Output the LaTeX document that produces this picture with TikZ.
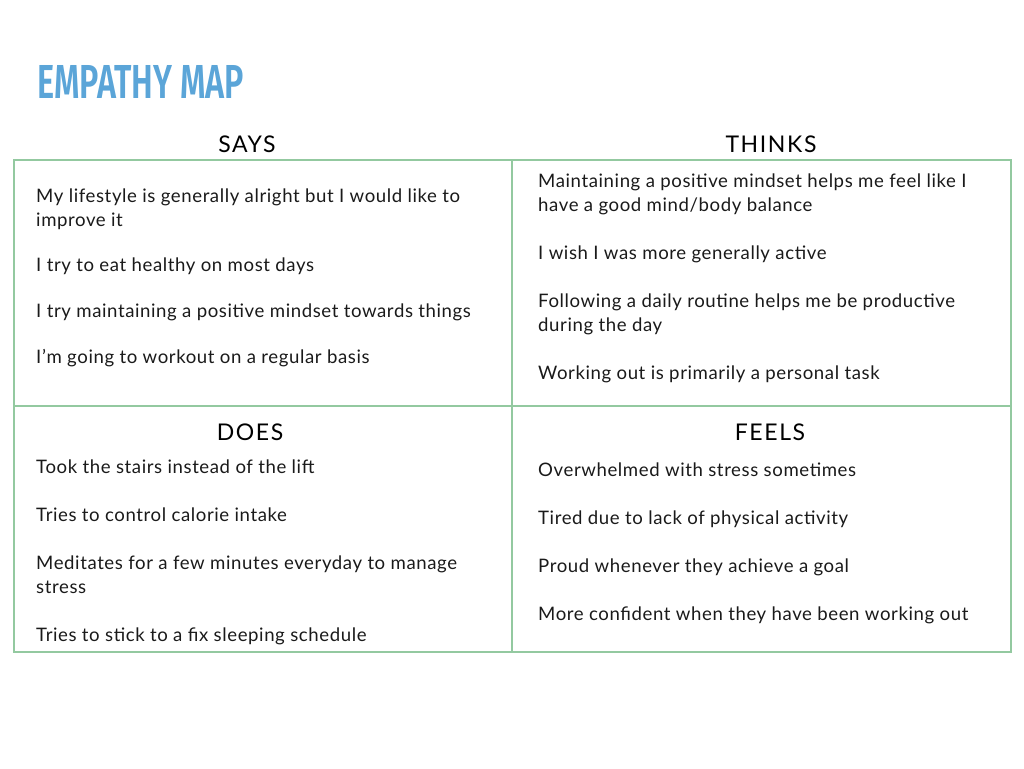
\documentclass[tikz,border=0pt]{standalone}
\usepackage{fontspec}
\setmainfont{Lato}[LetterSpace=3.2]
\newfontfamily\titlefont{Fira Sans SemiBold}
\definecolor{titleblue}{HTML}{5BA5D8}
\definecolor{gridgreen}{HTML}{93C9A0}
\definecolor{inktext}{HTML}{1A1A1A}
\begin{document}
\begin{tikzpicture}[x=1pt,y=-1pt,
  quadhead/.style={anchor=base, font=\fontsize{23}{26}\selectfont\addfontfeature{LetterSpace=7}, text=black, inner sep=0pt},
  item/.style={anchor=base west, align=left, font=\fontsize{18.6}{24}\selectfont, text=inktext, inner sep=0pt},
  gridline/.style={draw=gridgreen, line width=1.3pt}]
\useasboundingbox (0,0) rectangle (1024,768);
% title
\node[anchor=north west, inner sep=0pt, text=titleblue] (title) at (37,65)
  {\resizebox{207pt}{33pt}{\titlefont EMPATHY MAP}};
% grid
\coordinate (tl) at (14,160);
\coordinate (br) at (1011,652);
\draw[gridline] (tl) rectangle (br);
\coordinate (mt) at (512,160);
\coordinate (mb) at (512,652);
\coordinate (ml) at (14,406);
\coordinate (mr) at (1011,406);
\draw[gridline] (mt) -- (mb);
\draw[gridline] (ml) -- (mr);
% headings
\node[quadhead] (says) at (247,152) {SAYS};
\node[quadhead] (thinks) at (771,152) {THINKS};
\node[quadhead] (does) at (250,440) {DOES};
\node[quadhead] (feels) at (770,440) {FEELS};
% says (two-line items are anchored on their last line)
\node[item] (s1) at (36,226) {My lifestyle is generally alright but I would like to\\improve it};
\node[item] (s2) at (36,271) {I try to eat healthy on most days};
\node[item] (s3) at (36,317) {I try maintaining a positive mindset towards things};
\node[item] (s4) at (36,363) {I’m going to workout on a regular basis};
% thinks
\node[item] (t1) at (538,211) {Maintaining a positive mindset helps me feel like I\\have a good mind/body balance};
\node[item] (t2) at (538,259) {I wish I was more generally active};
\node[item] (t3) at (538,331) {Following a daily routine helps me be productive\\during the day};
\node[item] (t4) at (538,379) {Working out is primarily a personal task};
% does
\node[item] (d1) at (36,473) {Took the stairs instead of the lift};
\node[item] (d2) at (36,521) {Tries to control calorie intake};
\node[item] (d3) at (36,593) {Meditates for a few minutes everyday to manage\\stress};
\node[item] (d4) at (36,641) {Tries to stick to a fix sleeping schedule};
% feels
\node[item] (f1) at (538,476) {Overwhelmed with stress sometimes};
\node[item] (f2) at (538,524) {Tired due to lack of physical activity};
\node[item] (f3) at (538,572) {Proud whenever they achieve a goal};
\node[item] (f4) at (538,620) {More confident when they have been working out};
\end{tikzpicture}
\end{document}
